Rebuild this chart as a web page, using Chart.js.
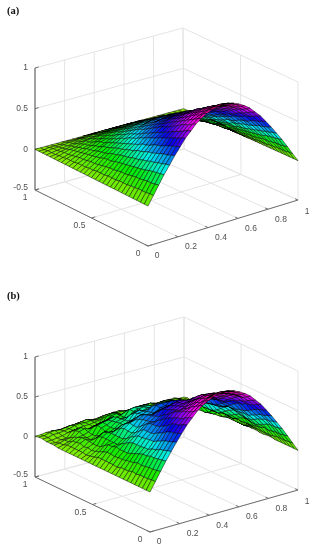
<!DOCTYPE html>
<html>
<head>
<meta charset="utf-8">
<style>
  html, body { margin: 0; padding: 0; background: #fff; }
  canvas { display: block; }
</style>
<script src="https://cdn.jsdelivr.net/npm/chart.js@4"></script>
</head>
<body>
<canvas id="surfaces" width="317" height="550"></canvas>
<script>
// tick values on the three axes
const xTicks = [0, 0.2, 0.4, 0.6, 0.8, 1];
const yTicks = [0, 0.5, 1];
const zTicks = [-0.5, 0, 0.5, 1];

// mesh positions
const xGrid = [0,.036,.071,.107,.143,.179,.214,.25,.286,.321,.357,.393,.429,.464,.5,.536,.571,.607,.643,.679,.714,.75,.786,.821,.857,.893,.929,.964,1];
const yGrid = [0,.033,.067,.1,.133,.167,.2,.233,.267,.3,.333,.367,.4,.433,.467,.5,.533,.567,.6,.633,.667,.7,.733,.767,.8,.833,.867,.9,.933,.967,1];

// heights x 100, one row per xGrid entry, one column per yGrid entry
const zA = [
[0,0,0,0,0,0,0,0,0,0,0,0,0,0,0,0,0,0,0,0,0,0,0,0,0,0,0,0,0,0,0],
[11,11,10,10,10,9,9,8,8,8,7,7,7,6,6,6,5,5,4,4,4,3,3,3,2,2,1,1,1,0,0],
[22,21,20,20,19,18,18,17,16,15,15,14,13,13,12,11,10,9,9,8,7,7,6,5,4,4,3,2,2,1,0],
[33,32,31,30,29,27,26,25,24,23,22,21,20,19,17,17,16,14,13,12,11,10,9,8,7,6,4,3,2,1,0],
[43,42,40,39,37,36,34,33,31,30,29,27,26,25,23,22,20,18,17,16,14,13,12,10,9,7,6,4,3,1,0],
[53,51,49,48,46,44,42,41,39,37,36,33,32,30,28,27,25,23,21,20,17,16,14,12,11,9,7,5,4,2,0],
[62,60,58,56,54,51,50,48,45,43,42,39,37,35,33,31,29,27,25,23,20,19,17,14,12,11,8,6,4,2,0],
[71,69,66,64,62,59,57,55,52,50,48,45,43,40,38,36,33,31,28,26,23,21,19,16,14,12,9,7,5,2,0],
[78,76,73,70,68,65,62,60,57,55,52,49,47,44,41,39,37,34,31,29,26,23,21,18,16,13,10,8,5,2,0],
[85,82,79,77,74,71,68,65,62,60,57,54,51,48,45,43,40,37,34,31,28,26,23,20,17,14,11,9,6,3,0],
[90,87,84,81,78,75,72,69,66,63,60,57,54,51,48,45,42,39,36,33,30,27,24,21,18,15,12,9,6,3,0],
[94,91,87,85,82,78,75,72,69,66,63,59,56,54,50,47,44,40,38,35,31,28,25,22,19,16,12,9,7,3,0],
[97,94,90,87,84,81,78,75,71,68,65,61,58,55,51,49,46,42,39,36,32,29,26,22,19,16,13,10,7,3,0],
[99,96,92,89,86,82,79,76,72,69,66,62,59,56,52,50,47,43,40,37,33,30,27,23,20,17,13,10,7,3,0],
[100,97,93,90,87,83,80,77,73,70,67,63,60,57,53,50,47,43,40,37,33,30,27,23,20,17,13,10,7,3,0],
[99,96,92,89,86,82,79,76,72,69,66,62,59,56,52,50,47,43,40,37,33,30,27,23,20,17,13,10,7,3,0],
[97,94,90,87,84,81,78,75,71,68,65,61,58,55,51,49,46,42,39,36,32,29,26,22,19,16,13,10,7,3,0],
[94,91,87,85,82,78,75,72,69,66,63,59,56,54,50,47,44,40,38,35,31,28,25,22,19,16,12,9,7,3,0],
[90,87,84,81,78,75,72,69,66,63,60,57,54,51,48,45,42,39,36,33,30,27,24,21,18,15,12,9,6,3,0],
[85,82,79,77,74,71,68,65,62,60,57,54,51,48,45,43,40,37,34,31,28,26,23,20,17,14,11,9,6,3,0],
[78,76,73,70,68,65,62,60,57,55,52,49,47,44,41,39,37,34,31,29,26,23,21,18,16,13,10,8,5,2,0],
[71,69,66,64,62,59,57,55,52,50,48,45,43,40,38,36,33,31,28,26,23,21,19,16,14,12,9,7,5,2,0],
[62,60,58,56,54,51,50,48,45,43,42,39,37,35,33,31,29,27,25,23,20,19,17,14,12,11,8,6,4,2,0],
[53,51,49,48,46,44,42,41,39,37,36,33,32,30,28,27,25,23,21,20,17,16,14,12,11,9,7,5,4,2,0],
[43,42,40,39,37,36,34,33,31,30,29,27,26,25,23,22,20,18,17,16,14,13,12,10,9,7,6,4,3,1,0],
[33,32,31,30,29,27,26,25,24,23,22,21,20,19,17,17,16,14,13,12,11,10,9,8,7,6,4,3,2,1,0],
[22,21,20,20,19,18,18,17,16,15,15,14,13,13,12,11,10,9,9,8,7,7,6,5,4,4,3,2,2,1,0],
[11,11,10,10,10,9,9,8,8,8,7,7,7,6,6,6,5,5,4,4,4,3,3,3,2,2,1,1,1,0,0],
[0,0,0,0,0,0,0,0,0,0,0,0,0,0,0,0,0,0,0,0,0,0,0,0,0,0,0,0,0,0,0]
];
const zB = [
[0,0,0,0,0,0,0,0,0,0,0,0,0,0,0,0,0,0,0,0,0,0,0,0,0,1,1,1,2,2,1],
[11,11,10,10,10,9,10,8,8,8,6,7,7,7,7,7,5,4,3,4,4,4,4,4,2,2,0,1,2,2,1],
[22,21,20,20,19,18,19,17,16,15,14,14,13,14,14,12,10,8,7,8,7,9,8,7,4,4,2,2,4,4,2],
[33,32,31,30,30,28,28,26,24,22,20,20,20,21,19,19,16,12,11,11,12,12,12,10,8,5,2,3,4,5,2],
[43,42,40,39,36,35,32,32,31,31,31,29,26,23,20,20,20,20,20,18,13,10,10,11,13,12,9,5,5,4,1],
[53,51,49,48,45,43,40,40,39,38,38,35,32,28,25,25,25,25,24,22,16,13,12,13,15,14,10,6,6,5,1],
[62,60,58,57,55,51,49,46,44,44,44,40,36,33,33,34,32,28,23,20,19,21,22,18,13,9,5,7,8,6,2],
[71,69,66,65,63,59,56,53,51,51,50,46,42,38,38,39,36,32,26,23,22,23,24,20,15,10,6,8,9,6,2],
[78,76,73,70,69,66,64,61,57,54,50,48,47,46,44,41,37,32,28,28,27,26,25,21,17,12,8,8,8,7,3],
[85,82,79,77,75,72,70,66,62,59,55,53,51,50,48,45,40,35,31,30,29,29,27,23,18,13,9,9,9,8,3],
[90,87,84,81,77,74,70,68,66,64,62,59,54,49,45,43,42,41,39,35,29,24,22,22,22,20,15,10,8,6,1],
[94,91,87,85,81,77,73,71,69,67,65,61,56,52,47,45,44,42,41,37,30,25,23,23,23,21,15,10,9,6,1],
[97,94,90,88,85,81,77,73,70,69,67,62,57,53,51,52,49,43,37,33,31,31,31,26,20,14,10,11,11,7,2],
[99,96,92,90,87,82,78,74,71,70,68,63,58,54,52,53,50,44,38,34,32,32,32,27,21,15,10,11,11,7,2],
[100,97,93,90,88,84,82,78,73,69,65,62,60,59,56,52,47,41,37,36,34,33,31,26,21,16,11,10,10,8,3],
[99,96,92,89,87,83,81,77,72,68,64,61,59,58,55,52,47,41,37,36,34,33,31,26,21,16,11,10,10,8,3],
[97,94,90,87,83,80,76,74,71,69,67,63,58,53,48,47,46,44,42,38,31,26,24,23,23,21,16,11,9,6,1],
[94,91,87,85,81,77,73,71,69,67,65,61,56,52,47,45,44,42,41,37,30,25,23,23,23,21,15,10,9,6,1],
[90,87,84,82,79,75,71,67,65,64,62,58,53,49,48,48,45,40,34,30,29,29,29,25,19,13,9,10,10,7,2],
[85,82,79,78,75,71,67,63,61,61,59,55,50,46,45,46,43,38,32,28,27,28,28,24,18,12,8,10,10,7,2],
[78,76,73,70,69,66,64,61,57,54,50,48,47,46,44,41,37,32,28,28,27,26,25,21,17,12,8,8,8,7,3],
[71,69,66,64,63,60,59,56,52,49,46,44,43,42,41,38,33,29,25,25,24,24,23,19,15,11,7,7,8,7,3],
[62,60,58,56,53,50,48,47,45,44,44,41,37,33,30,29,29,29,28,25,19,16,15,15,16,16,11,7,6,5,1],
[53,51,49,48,45,43,40,40,39,38,38,35,32,28,25,25,25,25,24,22,16,13,12,13,15,14,10,6,6,5,1],
[43,42,40,40,38,36,33,31,30,31,31,28,25,23,23,25,23,19,15,13,13,15,17,14,10,5,3,5,7,5,2],
[33,32,31,31,30,27,25,23,23,24,24,22,19,17,17,19,18,15,11,10,10,12,13,11,8,4,2,4,5,4,2],
[22,21,20,20,19,18,19,17,16,15,14,14,13,14,14,12,10,8,7,8,7,9,8,7,4,4,2,2,4,4,2],
[11,11,10,10,10,9,8,8,8,8,8,8,7,5,5,5,5,6,5,5,4,2,2,3,3,4,2,1,2,1,0],
[0,0,0,0,0,0,0,1,1,0,0,1,1,1,0,0,1,2,1,0,0,1,2,1,0,1,1,1,0,1,0]
];

// screen position of the eight box corners of each panel
const panels = [
  { name: "(a)", nameY: 14, heights: zA,
    low:  { front: [148, 246], right: [298, 200], back: [184, 149], left: [35, 190] },
    high: { front: [148, 126], right: [298, 82],  back: [183, 28],  left: [35, 68] } },
  { name: "(b)", nameY: 299, heights: zB,
    low:  { front: [150, 532], right: [298, 490], back: [184, 437], left: [35, 477] },
    high: { front: [150, 412], right: [298, 371], back: [184, 317], left: [35, 357] } }
];

function project(p, x, y, z) {
  const t = (z + 0.5) / 1.5;
  const out = [0, 1].map(k => {
    const lo = (1 - x) * (1 - y) * p.low.front[k] + x * (1 - y) * p.low.right[k] + x * y * p.low.back[k] + (1 - x) * y * p.low.left[k];
    const hi = (1 - x) * (1 - y) * p.high.front[k] + x * (1 - y) * p.high.right[k] + x * y * p.high.back[k] + (1 - x) * y * p.high.left[k];
    return lo + (hi - lo) * t;
  });
  return { x: out[0], y: out[1] };
}

// colour stops: height, hue
const hueStops = [[0, 85], [0.2, 120], [0.38, 180], [0.6, 240], [0.8, 295], [1, 330]];

function cellColor(z) {
  const v = Math.max(0, Math.min(1, z));
  let k = 0;
  while (k < hueStops.length - 2 && v > hueStops[k + 1][0]) k++;
  const [z0, h0] = hueStops[k], [z1, h1] = hueStops[k + 1];
  return `hsl(${h0 + (h1 - h0) * (v - z0) / (z1 - z0)}, 100%, 46%)`;
}

function cellArea(pts) {
  let sum = 0;
  for (let k = 0; k < 4; k++) sum += pts[k].x * pts[k + 1].y - pts[k + 1].x * pts[k].y;
  return Math.abs(sum) / 2;
}

function lineSet(points, color, width) {
  return { data: points, borderColor: color, borderWidth: width, pointRadius: 0, tension: 0, fill: false, clip: false };
}

const drawOrder = [];
const gridColor = "#e4e4e4", axisColor = "#6e6e6e";

panels.forEach(p => {
  const seg = (a, b, color, width) => drawOrder.push(lineSet([project(p, ...a), project(p, ...b)], color, width));

  // walls and floor
  xTicks.forEach(x => {
    seg([x, 0, -0.5], [x, 1, -0.5], gridColor, 1);
    seg([x, 1, -0.5], [x, 1, 1], gridColor, 1);
  });
  yTicks.forEach(y => {
    seg([0, y, -0.5], [1, y, -0.5], gridColor, 1);
    seg([1, y, -0.5], [1, y, 1], gridColor, 1);
  });
  zTicks.forEach(z => {
    seg([0, 1, z], [1, 1, z], gridColor, 1);
    seg([1, 1, z], [1, 0, z], gridColor, 1);
  });

  // axes and tick marks
  seg([0, 1, -0.5], [0, 0, -0.5], axisColor, 1);
  seg([0, 0, -0.5], [1, 0, -0.5], axisColor, 1);
  seg([0, 1, -0.5], [0, 1, 1], "#8c8c8c", 1.6);
  xTicks.forEach(x => seg([x, 0, -0.5], [x, 0.025, -0.5], axisColor, 1));
  yTicks.forEach(y => seg([0, y, -0.5], [0.025, y, -0.5], axisColor, 1));
  zTicks.forEach(z => seg([0, 1, z], [0.025, 1, z], axisColor, 1));

  // surface cells, far corner first; cells seen edge-on go dark
  for (let i = xGrid.length - 2; i >= 0; i--) {
    for (let j = yGrid.length - 2; j >= 0; j--) {
      const h = p.heights;
      const corners = [[i, j], [i + 1, j], [i + 1, j + 1], [i, j + 1], [i, j]];
      const pts = corners.map(([a, b]) => project(p, xGrid[a], yGrid[b], h[a][b] / 100));
      const avg = (h[i][j] + h[i + 1][j] + h[i + 1][j + 1] + h[i][j + 1]) / 400;
      const thin = cellArea(pts) < 5;
      drawOrder.push({ data: pts, borderColor: thin ? "#000" : "rgba(0,0,0,0.8)", borderWidth: thin ? 1 : 0.6, backgroundColor: cellColor(avg), fill: "shape", pointRadius: 0, tension: 0, clip: false });
    }
  }
});

// tick labels and panel names
const labelPlugin = {
  id: "labelPlugin",
  afterDraw(chart) {
    const { ctx, scales } = chart;
    const put = (text, px, py, align) => {
      ctx.textAlign = align;
      ctx.fillText(text, scales.x.getPixelForValue(px), scales.y.getPixelForValue(py));
    };
    ctx.save();
    ctx.textBaseline = "middle";
    panels.forEach(p => {
      ctx.fillStyle = "#4f4f4f";
      ctx.font = '8.5px "Liberation Sans"';
      xTicks.forEach(x => {
        const at = project(p, x, 0, -0.5);
        const whole = x === 0 || x === 1;
        put(String(x), at.x + (whole ? 9 : 13), at.y + (x === 1 ? 12 : 10), "center");
      });
      yTicks.forEach(y => {
        const at = project(p, 0, y, -0.5);
        put(String(y), at.x + (y === 0.5 ? -12 : -10), at.y + 8, "center");
      });
      zTicks.forEach(z => {
        const at = project(p, 0, 1, z);
        put(String(z), at.x - 7, at.y - (z < 0 ? 2 : 0), "right");
      });
      ctx.fillStyle = "#111";
      ctx.font = 'bold 10.5px "Liberation Serif"';
      ctx.textBaseline = "alphabetic";
      put(p.name, 7, p.nameY, "left");
      ctx.textBaseline = "middle";
    });
    ctx.restore();
  }
};

new Chart(document.getElementById("surfaces"), {
  type: "line",
  data: { datasets: drawOrder.reverse() },
  options: {
    responsive: false,
    animation: false,
    events: [],
    layout: { padding: 0 },
    plugins: { legend: { display: false }, tooltip: { enabled: false }, title: { display: false } },
    scales: {
      x: { type: "linear", display: false, min: 0, max: 317 },
      y: { type: "linear", display: false, min: 0, max: 550, reverse: true }
    }
  },
  plugins: [labelPlugin]
});
</script>
</body>
</html>
